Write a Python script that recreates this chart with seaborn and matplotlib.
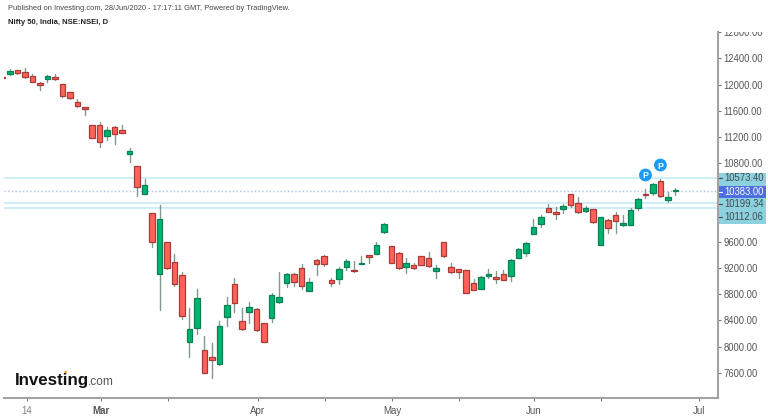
import matplotlib
matplotlib.use("Agg")
import matplotlib.pyplot as plt
from matplotlib.patches import Rectangle, Circle
from matplotlib.transforms import Bbox
import numpy as np
import pandas as pd
import seaborn as sns

# Daily OHLC
opens = [12117,12158,12220,12198,12132,12030,12091,12122,12010,11884,11735,11659,11384,11384,11221,11354,11313,10946,10754,10335,
         10036,9104,9593,9288,9089,8066,8280,7944,7842,7730,8452,8952,8391,8529,8579,8356,8442,8686,8976,9104,
         9201,8849,9327,9388,9017,9028,9221,9165,9262,9395,9410,9746,9537,9425,9221,9242,9379,9353,9159,9593,
         9216,9181,9165,8967,8885,9074,9063,9104,9074,9358,9425,9724,9873,10112,10051,10097,10331,10189,10071,10102,
         9552,9929,10010,9862,9862,10121,10331,10350,10525,10239,10376]
highs = [12125,12235,12229,12250,12158,12045,12143,12158,12010,11890,11786,11664,11384,11435,11349,11369,11384,11038,10754,10555,
         10036,10163,9602,9410,9135,8585,8885,8162,8051,8387,8753,9043,8585,8681,8585,8361,8814,9135,9129,9120,
         9266,9052,9338,9395,9043,9211,9338,9308,9384,9399,9602,9892,9537,9450,9358,9282,9384,9445,9242,9593,
         9282,9185,9170,9028,9079,9181,9160,9170,9334,9511,9602,9944,10005,10173,10127,10173,10331,10289,10152,10106,
         9984,9944,10056,10010,10112,10274,10402,10494,10555,10366,10427]
lows = [12095,12152,12163,12106,12041,11919,12045,12071,11816,11785,11655,11537,11181,11044,11155,11094,11258,10824,10305,10331,
        9526,8559,9181,8926,8417,7837,8188,7593,7516,7724,8315,8533,8254,8365,8243,8066,8376,8662,8911,8926,
        8885,8845,9098,9236,8926,8961,9170,9144,9262,9273,9410,9730,9277,9190,9124,9181,9246,9221,9048,9364,
        9124,9052,8814,8860,8880,9053,8972,9013,9007,9349,9384,9715,9831,10051,9953,10045,10137,10040,10051,9892,
        9547,9730,9730,9842,9857,10086,10274,10311,10289,10204,10315]
closes = [12102,12209,12174,12122,12045,11990,12132,12082,11827,11792,11679,11629,11190,11129,11308,11247,11267,10987,10442,10463,
          9593,9949,9196,8961,8463,8265,8738,7602,7800,8315,8640,8662,8274,8605,8254,8075,8788,8753,9114,8991,
          8926,8987,9262,9266,8976,9190,9312,9150,9277,9373,9552,9868,9282,9196,9277,9201,9251,9236,9205,9384,
          9135,9135,8823,8869,9063,9104,9037,9022,9318,9486,9578,9827,9979,10060,10021,10143,10163,10051,10112,9898,
          9979,9811,9914,9883,10086,10250,10311,10479,10295,10289,10383]

level_values = [10573.40, 10383.00, 10199.34, 10112.06]
y_ticks = [12800,12400,12000,11600,11200,10800,9600,9200,8800,8400,8000,7600]
x_tick_pos = [3.23,13.17,22.1,34.13,43.1,52.14,61.1,71.05,80.1,93.12]
x_tick_labels = ["14","Mar","","Apr","","May","","Jun","","Jul"]
pivot_idx = [86, 88]
pivot_val = [10621, 10773]

GREEN, GREEN_E = "#00B46E", "#0B7F55"
RED, RED_E = "#FF6259", "#A83A38"
WICK = "#7F9A8C"
LINE = "#BFE9F1"
GREY = "#555555"
W, H = 768, 416

sns.set_theme(style="white")
plt.rcParams["font.family"] = ["Liberation Sans", "DejaVu Sans"]

df = pd.DataFrame({"i": np.arange(len(opens)), "o": opens, "h": highs, "l": lows, "c": closes})
df["up"] = df["c"] >= df["o"]
long = df.melt(id_vars="i", value_vars=["l", "h"], value_name="price")

fig = plt.figure(figsize=(W/100, H/100), dpi=100, facecolor="white")
ax = fig.add_axes([4/W, 1-398.3/H, (717.7-4)/W, (398.3-32.3)/H])
ax.set_facecolor("white")

# Horizontal levels
for v, ls, lw, col in zip(level_values, ["-", ":", "-", "-"], [1.1, 1.0, 1.1, 1.1],
                          [LINE, "#A9BEF3", LINE, LINE]):
    ax.axhline(v, color=col, lw=lw, ls=ls, zorder=1)

# Wicks through seaborn, one unit per session
sns.lineplot(data=long, x="i", y="price", units="i", estimator=None, color=WICK,
             lw=1.0, ax=ax, legend=False, zorder=2)

# Bodies
body = (df["c"] - df["o"]).abs().clip(lower=12)
bottom = df[["o", "c"]].min(axis=1)
ax.bar(df["i"], body, bottom=bottom, width=0.74,
       color=[GREEN if u else RED for u in df["up"]],
       edgecolor=[GREEN_E if u else RED_E for u in df["up"]], linewidth=0.9, zorder=3)

ax.set_xlim((4-2.52)/7.476, (717.7-2.52)/7.476)
ax.set_ylim(13293-15.27*398.3, 13293-15.27*32.3)

for s in ["top", "left"]:
    ax.spines[s].set_visible(False)
for s in ["right", "bottom"]:
    ax.spines[s].set_visible(True)
    ax.spines[s].set_color("#A3A3A3")
    ax.spines[s].set_linewidth(1.5)

ax.set_xlabel(""); ax.set_ylabel("")
ax.yaxis.tick_right()
ax.set_yticks(y_ticks)
ax.set_yticklabels([f"{v:.2f}" for v in y_ticks])
ax.tick_params(axis="y", length=2.2, width=0.8, color="#777777", pad=2.0,
               labelsize=6.85, labelcolor=GREY, right=True, left=False)
ax.set_xticks(x_tick_pos)
ax.set_xticklabels(x_tick_labels)
ax.tick_params(axis="x", length=2.2, width=0.8, color="#777777", pad=3.2,
               labelsize=7.0, labelcolor=GREY, bottom=True)
for lab in ax.get_xticklabels():
    if lab.get_text() == "Mar":
        lab.set_fontweight("bold")
    if lab.get_text() == "14":
        lab.set_color("#808080")

# Top tick label is cut at the pane's top edge
fig.canvas.draw()
for lab in ax.get_yticklabels():
    if lab.get_text() == "12800.00":
        lab.set_clip_box(Bbox([[700, 0], [W, H-32.3]]))
        lab.set_clip_on(True)

# Price-scale boxes (figure pixels, y downward)
def px_rect(x0, y0, x1, y1, col, z):
    fig.add_artist(Rectangle((x0/W, 1-y1/H), (x1-x0)/W, (y1-y0)/H, transform=fig.transFigure,
                             facecolor=col, edgecolor="none", zorder=z))

px_rect(718.5, 173, 765.7, 223.5, "#8DD0DE", 4)
px_rect(718.5, 185.5, 765.7, 197.5, "#4E6FE0", 5)

label_y = [178.3, 191.7, 204.3, 217.3]
for v, y in zip(level_values, label_y):
    col = "white" if v == level_values[1] else "#3E4A4E"
    fig.text(724/W, 1-y/H, f"{v:.2f}", ha="left", va="center", fontsize=6.85, color=col, zorder=6)
    fig.add_artist(plt.Line2D([719/W, 722/W], [1-y/H, 1-y/H], color=col, lw=0.8, zorder=6))

# Pivot markers
sns.scatterplot(x=pivot_idx, y=pivot_val, s=85, color="#1B9BF7", edgecolor="none", ax=ax,
                legend=False, zorder=5, clip_on=False)
for i, v in zip(pivot_idx, pivot_val):
    ax.text(i, v, "P", color="white", fontsize=6.3, fontweight="bold", ha="center", va="center_baseline", zorder=6)

# Header
fig.text(8/W, 1-9/H, "Published on Investing.com, 28/Jun/2020 - 17:17:11 GMT, Powered by TradingView.",
         fontsize=5.4, color="#444444", ha="left", va="center")
fig.text(8/W, 1-22/H, "Nifty 50, India, NSE:NSEI, D", fontsize=5.47, fontweight="bold",
         color="#222222", ha="left", va="center")

# Logo
fig.text(15/W, 1-385/H, "Investing", fontsize=12.2, fontweight="bold", color="#111111",
         ha="left", va="baseline", zorder=6)
fig.text(88/W, 1-385/H, ".com", fontsize=8.6, color="#555555", ha="left", va="baseline", zorder=6)
fig.add_artist(Circle((65.7/W*W/100, (H-372)/100), 1.3/100, transform=fig.dpi_scale_trans,
                      facecolor="#F6A623", edgecolor="none", zorder=7))

fig.savefig("out.png", dpi=100, facecolor="white")
